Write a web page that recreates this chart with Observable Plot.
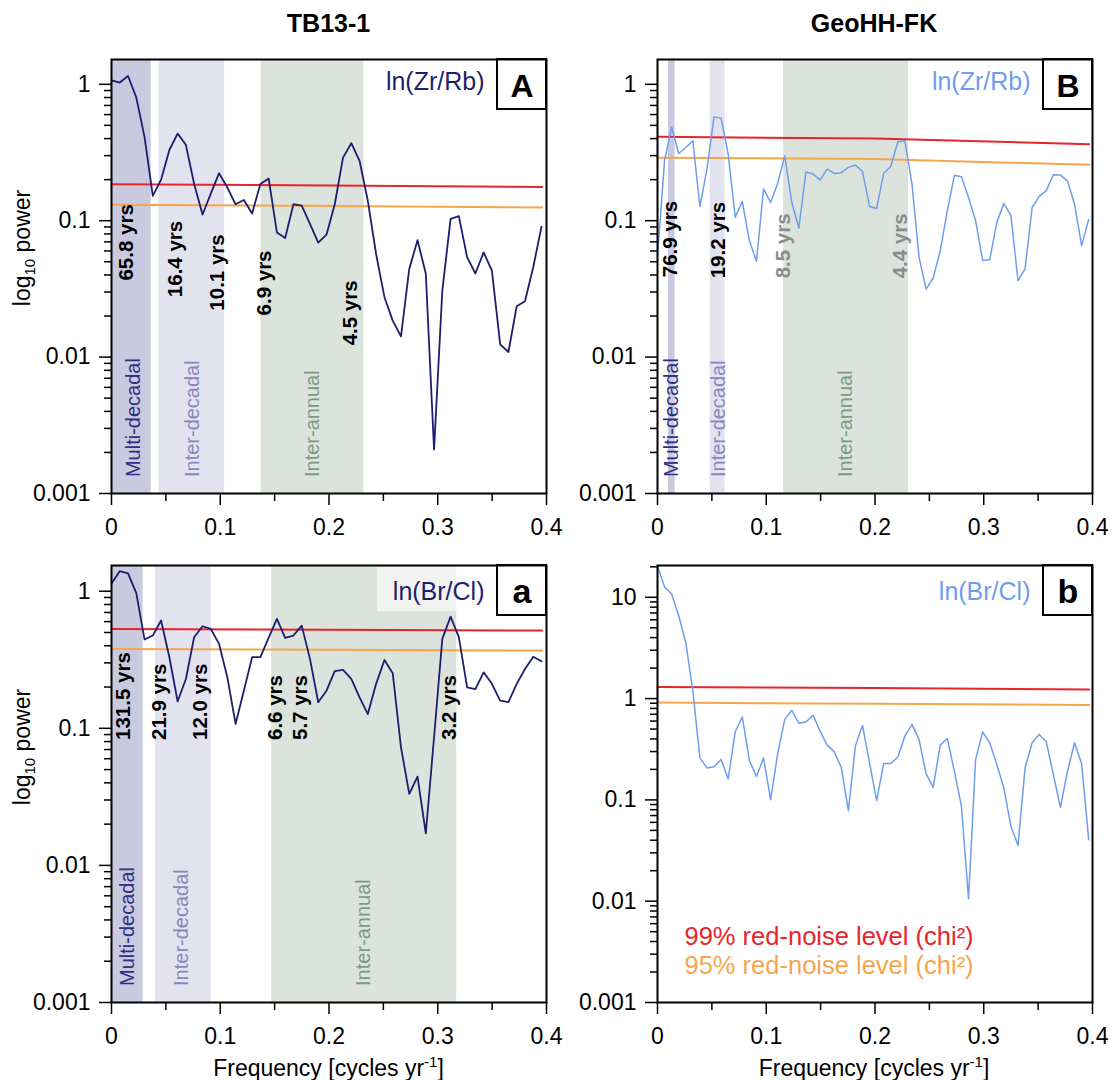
<!DOCTYPE html>
<html><head><meta charset="utf-8">
<script src="https://cdn.jsdelivr.net/npm/d3@7"></script>
<script src="https://cdn.jsdelivr.net/npm/@observablehq/plot@0.6"></script>
<style>
body{margin:0;background:#fff;}
#root{position:relative;width:1115px;height:1080px;font-family:"Liberation Sans",Arial,Helvetica,sans-serif;overflow:hidden;color:#000}
.abs{position:absolute;line-height:1;white-space:nowrap}
.title{font-weight:bold;font-size:25px;transform:translateX(-50%)}
.ylab{font-size:23px;transform:translate(-50%,-50%) rotate(-90deg)}
.xlab{font-size:23px;transform:translate(-50%,-50%)}
sub,sup{font-size:15px;line-height:0}
</style></head><body><div id="root"></div><script>
// ---------- data ----------
const titles = ["TB13-1", "GeoHH-FK"];
const regionKinds = ["Multi-decadal", "Inter-decadal", "Inter-annual"];
const xTickLabels = [0, 0.1, 0.2, 0.3, 0.4];
const xMinorTicks = [0.05, 0.15, 0.25, 0.35];
const yTicksTop = [0.001, 0.01, 0.1, 1];
const yTicksB = [0.001, 0.01, 0.1, 1, 10];

// TB13-1 frequency grid (cycles/yr)
const freqTB = [0, 0.0076, 0.0152, 0.0228, 0.0304, 0.0380, 0.0456, 0.0532, 0.0608, 0.0684,
  0.0760, 0.0837, 0.0913, 0.0989, 0.1065, 0.1141, 0.1217, 0.1293, 0.1369, 0.1445,
  0.1521, 0.1597, 0.1673, 0.1749, 0.1825, 0.1901, 0.1977, 0.2053, 0.2129, 0.2205,
  0.2281, 0.2357, 0.2433, 0.2510, 0.2586, 0.2662, 0.2738, 0.2814, 0.2890, 0.2966,
  0.3042, 0.3118, 0.3194, 0.3270, 0.3346, 0.3422, 0.3498, 0.3574, 0.3650, 0.3726,
  0.3802, 0.3878, 0.3954];
// GeoHH-FK frequency grid
const freqGeo = [0, 0.0065, 0.0130, 0.0195, 0.0260, 0.0325, 0.0390, 0.0455, 0.0520, 0.0585,
  0.0650, 0.0715, 0.0780, 0.0845, 0.0910, 0.0975, 0.1040, 0.1105, 0.1170, 0.1235,
  0.1300, 0.1365, 0.1430, 0.1495, 0.1560, 0.1625, 0.1690, 0.1755, 0.1820, 0.1885,
  0.1950, 0.2015, 0.2080, 0.2145, 0.2210, 0.2275, 0.2340, 0.2405, 0.2470, 0.2535,
  0.2600, 0.2665, 0.2730, 0.2795, 0.2860, 0.2925, 0.2990, 0.3055, 0.3120, 0.3185,
  0.3250, 0.3315, 0.3380, 0.3445, 0.3510, 0.3575, 0.3640, 0.3705, 0.3770, 0.3835,
  0.3900, 0.3965];

// Panel A: TB13-1 ln(Zr/Rb)
const powerA = [1.07, 1.03, 1.15, 0.80, 0.41, 0.152, 0.20, 0.33, 0.435, 0.36,
  0.186, 0.111, 0.158, 0.223, 0.175, 0.132, 0.142, 0.113, 0.186, 0.204,
  0.082, 0.0746, 0.132, 0.129, 0.0946, 0.069, 0.079, 0.132, 0.29, 0.37,
  0.275, 0.14, 0.057, 0.0275, 0.0185, 0.0142, 0.0443, 0.072, 0.041, 0.0021,
  0.0307, 0.103, 0.108, 0.054, 0.041, 0.0586, 0.043, 0.0124, 0.0109, 0.0236,
  0.0257, 0.0456, 0.0904];
// Panel B: GeoHH-FK ln(Zr/Rb)
const powerB = [0.055, 0.275, 0.487, 0.311, 0.344, 0.385, 0.127, 0.239, 0.577, 0.564,
  0.307, 0.106, 0.138, 0.0714, 0.0504, 0.171, 0.136, 0.188, 0.299, 0.136,
  0.0884, 0.228, 0.22, 0.199, 0.239, 0.222, 0.225, 0.246, 0.255, 0.23,
  0.127, 0.123, 0.223, 0.25, 0.379, 0.385, 0.186, 0.054, 0.0315, 0.038,
  0.0603, 0.118, 0.215, 0.21, 0.148, 0.1, 0.051, 0.0518, 0.0972, 0.134,
  0.109, 0.0364, 0.0443, 0.125, 0.151, 0.166, 0.217, 0.216, 0.196, 0.132,
  0.0656, 0.102];
// Panel a: TB13-1 ln(Br/Cl)
const powera = [1.14, 1.40, 1.35, 0.967, 0.444, 0.475, 0.611, 0.33, 0.157, 0.229,
  0.462, 0.555, 0.531, 0.413, 0.236, 0.1076, 0.188, 0.33, 0.33, 0.456,
  0.628, 0.456, 0.475, 0.561, 0.321, 0.155, 0.188, 0.261, 0.267, 0.229,
  0.168, 0.127, 0.211, 0.315, 0.252, 0.0727, 0.0332, 0.0444, 0.0171, 0.086,
  0.449, 0.653, 0.462, 0.199, 0.193, 0.256, 0.211, 0.159, 0.155, 0.211,
  0.271, 0.333, 0.308];
// Panel b: GeoHH-FK ln(Br/Cl)
const powerb = [20.5, 12.6, 10.8, 6.57, 3.58, 1.19, 0.26, 0.207, 0.212, 0.251,
  0.161, 0.471, 0.658, 0.245, 0.17, 0.26, 0.1006, 0.285, 0.624, 0.767,
  0.57, 0.588, 0.684, 0.478, 0.347, 0.298, 0.21, 0.0783, 0.34, 0.544,
  0.232, 0.0985, 0.229, 0.229, 0.264, 0.427, 0.557, 0.396, 0.181, 0.133,
  0.347, 0.404, 0.192, 0.0865, 0.01055, 0.251, 0.468, 0.366, 0.224, 0.131,
  0.0548, 0.0356, 0.207, 0.366, 0.443, 0.375, 0.178, 0.0845, 0.192, 0.366,
  0.227, 0.0405];

// red-noise levels (99 %, 95 %) at frequencies
const noiseFTB = [0, 0.2, 0.396];
const noiseFGeo = [0, 0.2, 0.397];
const red99A = [0.185, 0.181, 0.177], red95A = [0.131, 0.128, 0.125];
const red99B = [0.412, 0.400, 0.364], red95B = [0.290, 0.283, 0.257];
const red99a = [0.531, 0.524, 0.516], red95a = [0.379, 0.374, 0.369];
const red99b = [1.305, 1.27, 1.228], red95b = [0.913, 0.89, 0.866];

// frequency bands [start, end] for Multi-decadal, Inter-decadal, Inter-annual
const bandsA = [[0, 0.0365], [0.0436, 0.104], [0.1374, 0.2322]];
const bandsB = [[0.0101, 0.0162], [0.0484, 0.0622], [0.1159, 0.2308]];
const bandsa = [[0, 0.0291], [0.0405, 0.0917], [0.1472, 0.3175]];

// band label positions (frequency)
const regionXA = [0.0199, 0.0748, 0.185];
const regionXB = [0.0129, 0.0558, 0.1732];
const regionXa = [0.0144, 0.0641, 0.2322];

// significant period labels
const periodsA = ["65.8 yrs", "16.4 yrs", "10.1 yrs", "6.9 yrs", "4.5 yrs"];
const periodXA = [0.0138, 0.0589, 0.0972, 0.1402, 0.2193];
const periodYA = [0.0364, 0.0275, 0.0219, 0.0202, 0.0122];
const periodsB = ["76.9 yrs", "19.2 yrs", "8.5 yrs", "4.4 yrs"];
const periodXB = [0.0116, 0.0558, 0.1159, 0.2231];
const periodYB = [0.0385, 0.0378, 0.0378, 0.0378];
const periodSigB = [true, true, false, false];
const periodsa = ["131.5 yrs", "21.9 yrs", "12.0 yrs", "6.6 yrs", "5.7 yrs", "3.2 yrs"];
const periodXa = [0.01135, 0.0445, 0.0819, 0.1509, 0.1733, 0.3104];
const periodYa = [0.0822, 0.0822, 0.0822, 0.0822, 0.0822, 0.0822];

const legendTexts = ["99% red-noise level (chi²)", "95% red-noise level (chi²)"];

// ---------- styles ----------
const FONT = '"Liberation Sans", Arial, Helvetica, sans-serif';
const NAVY = "#1e1e6e", LIGHTBLUE = "#6f9ded", RED = "#e8242b", ORANGE = "#f6a54c";
const bandFill = ["#c9c9df", "#e3e3ef", "#dbe3dc"];
const regionFill = ["#2f2f82", "#8787bb", "#7b9b81"];

function rows(xs, ys) { return xs.map((x, i) => ({x, y: ys[i]})); }

function minorTicks(lo, hi) {
  const t = [];
  for (let e = Math.floor(Math.log10(lo)); e <= Math.ceil(Math.log10(hi)); e++)
    for (let m = 2; m <= 9; m++) { const v = m * Math.pow(10, e); if (v > lo && v < hi) t.push(+v.toPrecision(3)); }
  return t;
}

function makePanel(c) {
  const marks = [];
  if (c.bands) c.bands.forEach((b, i) =>
    marks.push(Plot.rect([b], {x1: d => d[0], x2: d => d[1], fill: bandFill[i]})));
  if (c.nameBackdrop) marks.push((index, scales, values, dims) => {
    const g = d3.create("svg:g");
    g.append("rect").attr("x", dims.width - dims.marginRight - 49 - 120).attr("y", dims.marginTop + 2)
      .attr("width", 120).attr("height", 44).attr("fill", "white").attr("fill-opacity", 0.6);
    return g.node();
  });
  marks.push(Plot.line(rows(c.noiseF, c.red99), {x: "x", y: "y", stroke: RED, strokeWidth: 2}));
  marks.push(Plot.line(rows(c.noiseF, c.red95), {x: "x", y: "y", stroke: ORANGE, strokeWidth: 2}));
  marks.push(Plot.line(rows(c.freq, c.power), {x: "x", y: "y", stroke: c.color, strokeWidth: c.lineWidth}));
  if (c.periods) {
    const pd = c.periods.map((t, i) => ({t, x: c.periodX[i], y: c.periodY[i], sig: c.periodSig ? c.periodSig[i] : true}));
    marks.push(Plot.text(pd.filter(d => d.sig), {x: "x", y: "y", text: "t", rotate: -90, textAnchor: "start",
      fontSize: 20.5, fontWeight: "bold", fill: "black", fontFamily: FONT}));
    marks.push(Plot.text(pd.filter(d => !d.sig), {x: "x", y: "y", text: "t", rotate: -90, textAnchor: "start",
      fontSize: 20.5, fontWeight: "bold", fill: "#8b8b8b", fontFamily: FONT}));
  }
  if (c.regionX) regionKinds.forEach((k, i) =>
    marks.push(Plot.text([k], {x: () => c.regionX[i], y: () => 0.00132, text: d => d, rotate: -90, textAnchor: "start",
      fontSize: 20, fill: regionFill[i], fontFamily: FONT})));
  marks.push(Plot.text([c.name], {frameAnchor: "top-right", lineAnchor: "top", text: d => d, dx: -62, dy: c.nameDy,
    textAnchor: "end", fontSize: 25, fill: c.color, fontFamily: FONT}));
  marks.push((index, scales, values, dims) => {
    const g = d3.create("svg:g");
    g.append("rect").attr("x", dims.width - dims.marginRight - 49).attr("y", dims.marginTop)
      .attr("width", 49).attr("height", 50).attr("fill", "white").attr("stroke", "black").attr("stroke-width", 2);
    return g.node();
  });
  marks.push(Plot.text([c.letter], {frameAnchor: "top-right", lineAnchor: "top", text: d => d, dx: -24.5, dy: c.letterDy,
    textAnchor: "middle", fontSize: c.letterSize, fontWeight: "bold", fill: "black", fontFamily: FONT}));
  if (c.legend) {
    marks.push(Plot.text([legendTexts[0]], {frameAnchor: "bottom-left", text: d => d, dx: 27, dy: -58, textAnchor: "start",
      fontSize: 25.5, fill: RED, fontFamily: FONT}));
    marks.push(Plot.text([legendTexts[1]], {frameAnchor: "bottom-left", text: d => d, dx: 27, dy: -29, textAnchor: "start",
      fontSize: 25.5, fill: ORANGE, fontFamily: FONT}));
  }
  marks.push(Plot.axisX({ticks: xTickLabels, tickSize: 12, tickPadding: 13, fontSize: 23, strokeWidth: 1.5,
    tickFormat: d => String(d), label: null}));
  marks.push(Plot.axisX({ticks: xMinorTicks, tickSize: 8, strokeWidth: 1.5, tickFormat: () => "", label: null}));
  marks.push(Plot.axisY({ticks: c.yTicks, tickSize: 12, tickPadding: 9, fontSize: 23, strokeWidth: 1.5,
    tickFormat: d => String(d), label: null}));
  marks.push(Plot.axisY({ticks: minorTicks(0.001, c.ymax), tickSize: 7, strokeWidth: 1.5, tickFormat: () => "", label: null}));
  marks.push(Plot.frame({stroke: "black", strokeWidth: 2}));

  const svg = Plot.plot({
    width: c.width, height: 540,
    marginLeft: c.mL, marginRight: c.mR, marginTop: c.mT, marginBottom: c.mB,
    x: {domain: [0, 0.4]},
    y: {type: "log", domain: [0.001, c.ymax]},
    style: {fontFamily: FONT, background: "transparent", color: "black", overflow: "visible"},
    marks
  });
  svg.style.position = "absolute";
  svg.style.left = c.left + "px";
  svg.style.top = c.top + "px";
  return svg;
}

const root = document.getElementById("root");
root.appendChild(makePanel({left: 0, top: 0, width: 557, mL: 111, mR: 11, mT: 59, mB: 47,
  freq: freqTB, power: powerA, color: NAVY, lineWidth: 1.8, noiseF: noiseFTB, red99: red99A, red95: red95A,
  bands: bandsA, regionX: regionXA, periods: periodsA, periodX: periodXA, periodY: periodYA,
  name: "ln(Zr/Rb)", nameDy: 13, letter: "A", letterSize: 32, letterDy: 15, ymax: 1.52, yTicks: yTicksTop}));
root.appendChild(makePanel({left: 557, top: 0, width: 558, mL: 100, mR: 23, mT: 59, mB: 47,
  freq: freqGeo, power: powerB, color: LIGHTBLUE, lineWidth: 1.5, noiseF: noiseFGeo, red99: red99B, red95: red95B,
  bands: bandsB, regionX: regionXB, periods: periodsB, periodX: periodXB, periodY: periodYB, periodSig: periodSigB,
  name: "ln(Zr/Rb)", nameDy: 13, letter: "B", letterSize: 32, letterDy: 15, ymax: 1.52, yTicks: yTicksTop}));
root.appendChild(makePanel({left: 0, top: 540, width: 557, mL: 111, mR: 11, mT: 25, mB: 78,
  freq: freqTB, power: powera, color: NAVY, lineWidth: 1.8, noiseF: noiseFTB, red99: red99a, red95: red95a,
  bands: bandsa, regionX: regionXa, periods: periodsa, periodX: periodXa, periodY: periodYa, nameBackdrop: true,
  name: "ln(Br/Cl)", nameDy: 17, letter: "a", letterSize: 34, letterDy: 13, ymax: 1.54, yTicks: yTicksTop}));
root.appendChild(makePanel({left: 557, top: 540, width: 558, mL: 100, mR: 23, mT: 25, mB: 78,
  freq: freqGeo, power: powerb, color: LIGHTBLUE, lineWidth: 1.5, noiseF: noiseFGeo, red99: red99b, red95: red95b,
  legend: true,
  name: "ln(Br/Cl)", nameDy: 16.5, letter: "b", letterSize: 34, letterDy: 13, ymax: 20.6, yTicks: yTicksB}));

// titles and axis labels
function addDiv(cls, html, left, top) {
  const d = document.createElement("div");
  d.className = "abs " + cls; d.innerHTML = html;
  d.style.left = left + "px"; d.style.top = top + "px";
  root.appendChild(d);
}
addDiv("title", titles[0], 328.5, 11);
addDiv("title", titles[1], 874, 11);
addDiv("ylab", "log<sub>10</sub> power", 22, 248);
addDiv("ylab", "log<sub>10</sub> power", 22, 747);
addDiv("xlab", "Frequency [cycles yr<sup>-1</sup>]", 328.5, 1068);
addDiv("xlab", "Frequency [cycles yr<sup>-1</sup>]", 874, 1068);
</script></body></html>
